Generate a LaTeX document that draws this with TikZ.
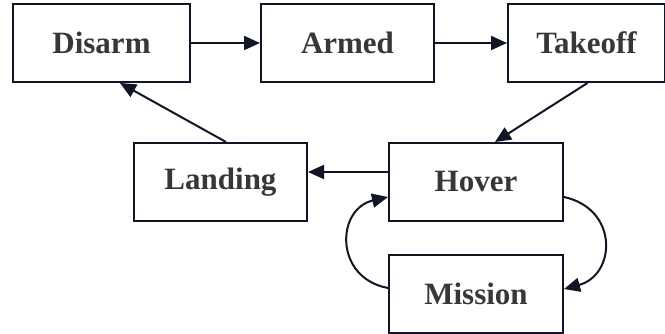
\documentclass[tikz,border=0pt]{standalone}
\usepackage{fontspec}
\setmainfont{Liberation Serif}
\usepackage{xcolor}
\usetikzlibrary{positioning,arrows.meta,calc}
\definecolor{edgec}{RGB}{18,22,36}
\definecolor{textc}{RGB}{55,55,55}
\begin{document}
\begin{tikzpicture}[
  x=1pt, y=1pt,
  font=\fontsize{31}{36}\selectfont\bfseries,
  state/.style={draw=edgec, line width=2pt, minimum height=78pt, inner sep=0pt, text=textc},
  arr/.style={-{Triangle[length=16pt, width=14pt, fill=edgec]}, line width=2pt, draw=edgec},
  node distance=69pt
]
\useasboundingbox (0,0) rectangle (665,-334);
\node[state, minimum width=177pt] (disarm) at (101.5,-43) {Disarm};
\node[state, minimum width=173pt, right=of disarm] (armed) {Armed};
\node[state, minimum width=157pt, right=72pt of armed] (takeoff) {Takeoff};
\node[state, minimum width=174pt] (hover) at (476,-182) {Hover};
\node[state, minimum width=173pt, left=80pt of hover] (landing) {Landing};
\node[state, minimum width=174pt, below=32pt of hover] (mission) {Mission};
\foreach \a/\b in {disarm/armed, armed/takeoff}{\draw[arr] (\a) -- (\b);}
\draw[arr] ([xshift=1pt]takeoff.south) -- ([xshift=19pt]hover.north);
\draw[arr] ([yshift=10pt]hover.west) -- ([yshift=10pt]landing.east);
\draw[arr] ([xshift=5.5pt]landing.north) -- ([xshift=18.5pt]disarm.south);
% loop between hover and mission
\draw[arr] ([yshift=-15pt]hover.east) .. controls +(55,-12) and +(52,14) .. ([yshift=5pt]mission.east);
\draw[arr] ([yshift=6pt]mission.west) .. controls +(-54,10) and +(-52,-12) .. ([yshift=-15pt]hover.west);
\end{tikzpicture}
\end{document}
